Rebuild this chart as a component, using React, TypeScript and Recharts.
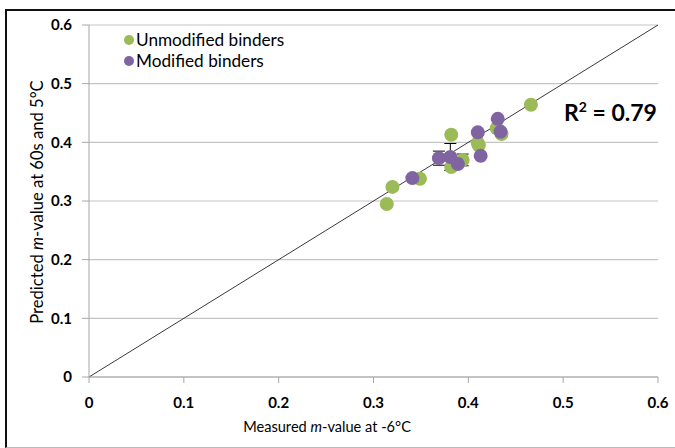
import {
  ScatterChart,
  Scatter,
  XAxis,
  YAxis,
  CartesianGrid,
  ReferenceLine,
  ErrorBar,
} from 'recharts';

// measured m-value at -6°C vs predicted m-value at 60s and 5°C
const unmodifiedMeasured = [0.466, 0.382, 0.41, 0.411, 0.43, 0.435, 0.394, 0.382, 0.349, 0.32, 0.314];
const unmodifiedPredicted = [0.464, 0.413, 0.399, 0.395, 0.424, 0.414, 0.37, 0.358, 0.338, 0.324, 0.295];
const unmodifiedError = [0, 0, 0, 0, 0, 0, 0.01, 0, 0, 0, 0];

const modifiedMeasured = [0.431, 0.434, 0.41, 0.413, 0.369, 0.381, 0.389, 0.341];
const modifiedPredicted = [0.44, 0.418, 0.417, 0.377, 0.373, 0.375, 0.363, 0.339];
const modifiedError = [0, 0, 0, 0, 0.012, 0.023, 0, 0];

const axisTicks = [0, 0.1, 0.2, 0.3, 0.4, 0.5, 0.6];
const rSquared = '0.79';

const GREEN = '#9BBB59';
const PURPLE = '#8064A2';
const FONT = 'Lato, "Open Sans", sans-serif';

const toPoints = (xs: number[], ys: number[], errs: number[]) =>
  xs.map((x, i) => ({ x, y: ys[i], err: errs[i] }));

const unmodified = toPoints(unmodifiedMeasured, unmodifiedPredicted, unmodifiedError);
const modified = toPoints(modifiedMeasured, modifiedPredicted, modifiedError);

function Dot(fill: string) {
  return (props: { cx?: number; cy?: number }) => (
    <circle cx={props.cx} cy={props.cy} r={7} fill={fill} />
  );
}

function XTitle(props: { viewBox?: { x: number; y: number; width: number; height: number } }) {
  const vb = props.viewBox!;
  return (
    <text x={327} y={vb.y + 55} textAnchor="middle" fontFamily={FONT} fontSize={14.6} fill="#000">
      Measured <tspan fontStyle="italic">m</tspan>-value at -6°C
    </text>
  );
}

function YTitle(props: { viewBox?: { x: number; y: number; width: number; height: number } }) {
  const vb = props.viewBox!;
  const cy = vb.y + vb.height / 2 + 1;
  const cx = 37;
  return (
    <text
      x={cx}
      y={cy}
      textAnchor="middle"
      dominantBaseline="central"
      transform={`rotate(-90 ${cx} ${cy})`}
      fontFamily={FONT}
      fontSize={16.6}
      fill="#000"
    >
      Predicted <tspan fontStyle="italic">m</tspan>-value at 60s and 5°C
    </text>
  );
}

const legendItems = [
  { label: 'Unmodified binders', color: GREEN },
  { label: 'Modified binders', color: PURPLE },
];

export default function App() {
  return (
    <div
      style={{
        position: 'absolute',
        left: 0,
        top: 0,
        width: 675,
        height: 448,
        background: '#fff',
        overflow: 'hidden',
      }}
    >
      <ScatterChart
        width={675}
        height={448}
        margin={{ top: 25, right: 17, left: 0, bottom: 0 }}
        style={{ position: 'absolute', left: 0, top: 0 }}
      >
        <CartesianGrid horizontal vertical={false} stroke="#c4c4c4" strokeWidth={1.2} />
        <XAxis
          type="number"
          dataKey="x"
          domain={[0, 0.6]}
          ticks={axisTicks}
          tickFormatter={(v) => String(v)}
          height={71}
          axisLine={{ stroke: '#a6a6a6' }}
          tickLine={{ stroke: '#a6a6a6' }}
          tickSize={6}
          tickMargin={14}
          tick={{ fontFamily: FONT, fontSize: 15, fontWeight: 700, fill: '#000' }}
          label={<XTitle />}
        />
        <YAxis
          type="number"
          dataKey="y"
          domain={[0, 0.6]}
          ticks={axisTicks}
          tickFormatter={(v) => String(v)}
          width={89}
          axisLine={{ stroke: '#a6a6a6' }}
          tickLine={{ stroke: '#a6a6a6' }}
          tickSize={7}
          tickMargin={10}
          tick={{ fontFamily: FONT, fontSize: 15, fontWeight: 700, fill: '#000' }}
          label={<YTitle />}
        />
        <ReferenceLine
          segment={[
            { x: 0, y: 0 },
            { x: 0.6, y: 0.6 },
          ]}
          stroke="#3a3a3a"
          strokeWidth={1}
          ifOverflow="visible"
        />
        <Scatter name="Unmodified binders" data={unmodified} shape={Dot(GREEN)} isAnimationActive={false}>
          <ErrorBar dataKey="err" direction="y" width={6} stroke="#000" strokeWidth={1} />
        </Scatter>
        <Scatter name="Modified binders" data={modified} shape={Dot(PURPLE)} isAnimationActive={false}>
          <ErrorBar dataKey="err" direction="y" width={6} stroke="#000" strokeWidth={1} />
        </Scatter>
      </ScatterChart>

      {/* legend */}
      <div
        style={{
          position: 'absolute',
          left: 124,
          top: 29,
          fontFamily: FONT,
          fontSize: 17.2,
          color: '#000',
          lineHeight: '21px',
          whiteSpace: 'nowrap',
        }}
      >
        {legendItems.map((it) => (
          <div key={it.label} style={{ display: 'flex', alignItems: 'center' }}>
            <span
              style={{
                display: 'inline-block',
                width: 10,
                height: 10,
                borderRadius: '50%',
                background: it.color,
                marginRight: 2,
              }}
            />
            {it.label}
          </div>
        ))}
      </div>

      {/* R² annotation */}
      <div
        style={{
          position: 'absolute',
          left: 564,
          top: 98,
          fontFamily: FONT,
          fontSize: 23,
          fontWeight: 700,
          color: '#000',
          lineHeight: '28px',
          whiteSpace: 'nowrap',
        }}
      >
        R
        <span style={{ fontSize: 14, position: 'relative', top: -9 }}>2</span>
        {` = ${rSquared}`}
      </div>

      {/* frame */}
      <div
        style={{
          position: 'absolute',
          left: 5,
          top: 9,
          width: 680,
          height: 436,
          borderLeft: '2px solid #111',
          borderTop: '2px solid #111',
          borderBottom: '1px solid #bbb',
          pointerEvents: 'none',
        }}
      />
    </div>
  );
}
